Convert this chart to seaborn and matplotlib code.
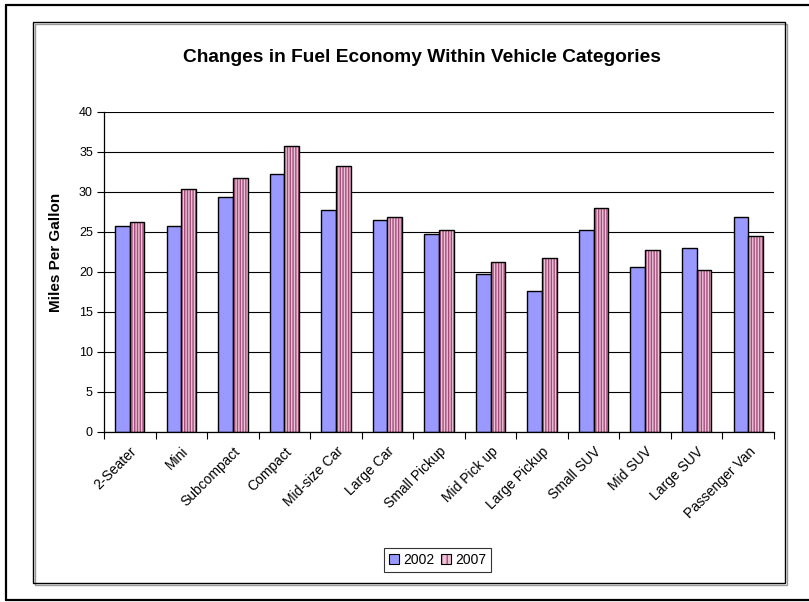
import matplotlib
matplotlib.use("Agg")
import matplotlib.pyplot as plt
import matplotlib.colors as mcolors
from matplotlib.patches import Patch, Rectangle
from matplotlib.lines import Line2D
import seaborn as sns
import pandas as pd

categories = ["2-Seater", "Mini", "Subcompact", "Compact", "Mid-size Car", "Large Car",
              "Small Pickup", "Mid Pick up", "Large Pickup", "Small SUV", "Mid SUV",
              "Large SUV", "Passenger Van"]
mpg_2002 = [25.8, 25.8, 29.4, 32.2, 27.7, 26.5, 24.7, 19.8, 17.6, 25.2, 20.6, 23.0, 26.9]
mpg_2007 = [26.2, 30.4, 31.8, 35.7, 33.3, 26.9, 25.2, 21.3, 21.8, 28.0, 22.8, 20.3, 24.5]
years = ["2002", "2007"]
y_ticks = [0, 5, 10, 15, 20, 25, 30, 35, 40]

df = pd.DataFrame({
    "category": categories * 2,
    "year": [years[0]] * len(categories) + [years[1]] * len(categories),
    "mpg": mpg_2002 + mpg_2007,
})

sns.set_style("white")
plt.rcParams["font.family"] = ["Liberation Sans", "DejaVu Sans"]
plt.rcParams["text.color"] = "black"
plt.rcParams["axes.labelcolor"] = "black"
plt.rcParams["xtick.color"] = "black"
plt.rcParams["ytick.color"] = "black"

W, H = 809, 602
fig = plt.figure(figsize=(W / 100, H / 100), dpi=100)
ax = fig.add_axes([104 / W, 1 - 432 / H, 670 / W, 320 / H])

c2002 = "#9999FF"
c2007 = "#EDC3D8"
sns.barplot(data=df, x="category", y="mpg", hue="year", palette=[c2002, c2007],
            width=0.57, edgecolor="black", linewidth=1.0, saturation=1,
            ax=ax, legend=False, errorbar=None)

for p in ax.containers[1]:
    p.set_hatch("||||||")
    p._hatch_color = mcolors.to_rgba("#A34D7A")
    p.stale = True

ax.set_ylim(0, 40)
ax.set_xlim(-0.5, len(categories) - 0.5)
ax.set_yticks(y_ticks)
ax.set_yticklabels([str(t) for t in y_ticks], fontsize=9)
ax.yaxis.grid(True, color="black", linewidth=0.8)
ax.set_axisbelow(True)
ax.tick_params(axis="y", direction="out", length=5, width=0.8, color="black",
               labelcolor="black", pad=3, left=True)
ax.tick_params(axis="x", which="major", length=0, pad=9, labelcolor="black")
ax.set_xticks(range(len(categories)))
ax.set_xticklabels(categories, rotation=45, ha="right", rotation_mode="anchor", fontsize=10)
ax.set_xticks([i - 0.5 for i in range(len(categories) + 1)], minor=True)
ax.tick_params(axis="x", which="minor", direction="out", length=5, width=0.8, color="black", bottom=True)
for s in ["top", "right"]:
    ax.spines[s].set_visible(False)
for s in ["left", "bottom"]:
    ax.spines[s].set_color("black")
    ax.spines[s].set_linewidth(0.9)
ax.set_xlabel("")
ax.set_ylabel("Miles Per Gallon", fontsize=11, fontweight="bold", color="black")
ax.yaxis.set_label_coords((63 - 104) / 670, (432 - 252) / 320)

fig.text(422 / W, 1 - 57 / H, "Changes in Fuel Economy Within Vehicle Categories",
         ha="center", va="center", fontsize=13.8, fontweight="bold", color="black")

h1 = Patch(facecolor=c2002, edgecolor="black", linewidth=0.8)
h2 = Patch(facecolor=c2007, edgecolor="black", linewidth=0.8, hatch="|||")
h2._hatch_color = mcolors.to_rgba("#A34D7A")
leg = ax.legend(handles=[h1, h2], labels=years, loc="center",
                bbox_to_anchor=(437.5 / W, 1 - 560 / H), bbox_transform=fig.transFigure,
                ncol=2, frameon=True, fancybox=False, edgecolor="black", fontsize=10,
                labelcolor="black",
                handlelength=0.7, handleheight=0.7, handletextpad=0.3,
                columnspacing=0.5, borderpad=0.35, borderaxespad=0)
leg.get_frame().set_linewidth(0.8)

# inner chart frame with slight shadow
fig.add_artist(Rectangle((35 / W, 1 - 585 / H), 752 / W, 561 / H, transform=fig.transFigure,
                         fill=False, edgecolor="#999999", linewidth=1.0))
fig.add_artist(Rectangle((33 / W, 1 - 583 / H), 752 / W, 561 / H, transform=fig.transFigure,
                         fill=False, edgecolor="black", linewidth=1.0))
# outer frame
fig.add_artist(Line2D([6 / W, 1.0], [1 - 5 / H, 1 - 5 / H], transform=fig.transFigure,
                      color="black", linewidth=1.6))
fig.add_artist(Line2D([6 / W, 6 / W], [1 - 5 / H, 1 - 600 / H], transform=fig.transFigure,
                      color="black", linewidth=1.6))
fig.add_artist(Line2D([6 / W, 1.0], [1 - 600 / H, 1 - 600 / H], transform=fig.transFigure,
                      color="black", linewidth=1.6))

fig.savefig("out.png", dpi=100)
